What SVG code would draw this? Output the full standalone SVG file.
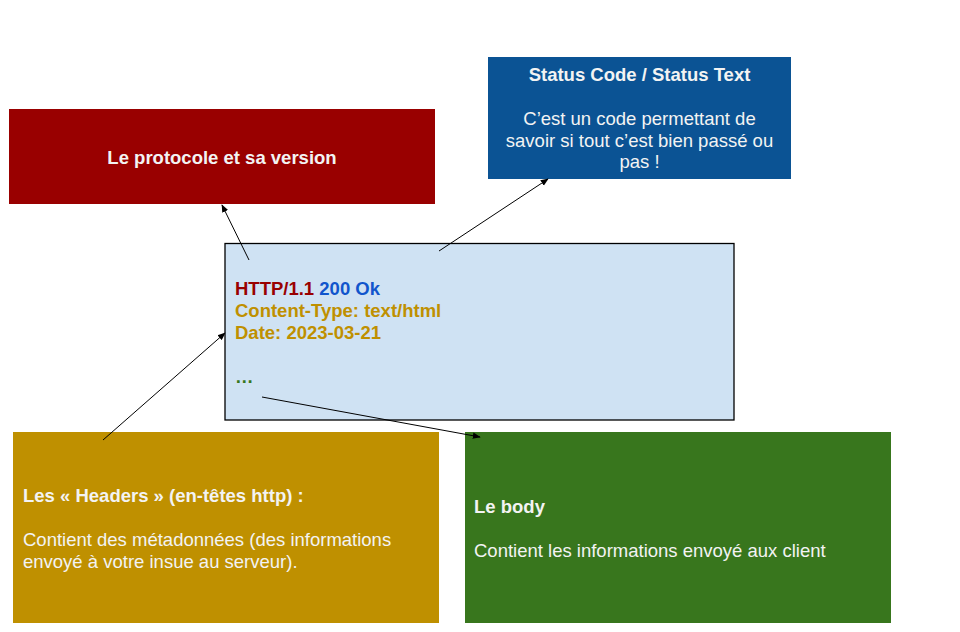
<svg xmlns="http://www.w3.org/2000/svg" width="960" height="632" viewBox="0 0 960 632">
<style>
text{font-family:"Liberation Sans",Arial,sans-serif;font-size:18.5px}
.w{fill:#f3f3f3}
.b{font-weight:bold}
.c{stroke:#000;stroke-width:1;fill:none;marker-end:url(#ah)}
</style>
<defs>
<marker id="ah" viewBox="0 0 10 10" refX="9" refY="5" markerWidth="8" markerHeight="8" markerUnits="userSpaceOnUse" orient="auto">
<path d="M0,1 L10,5 L0,9 z" fill="#000"/>
</marker>
</defs>
<rect width="960" height="632" fill="#fff"/>
<g id="protocol">
<rect x="9" y="109" width="426" height="95" fill="#990000"/>
<text class="w b" x="222" y="163.5" text-anchor="middle">Le protocole et sa version</text>
</g>
<g id="status">
<rect x="488" y="57" width="303" height="122" fill="#0b5394"/>
<text class="w b" x="639.5" y="80.5" text-anchor="middle">Status Code / Status Text</text>
<text class="w" x="639.5" y="125" text-anchor="middle">C’est un code permettant de</text>
<text class="w" x="639.5" y="146.5" text-anchor="middle">savoir si tout c’est bien passé ou</text>
<text class="w" x="639.5" y="168" text-anchor="middle">pas !</text>
</g>
<g id="message">
<rect x="225" y="243.5" width="509" height="176.5" fill="#cfe2f3" stroke="#000" stroke-width="1.3"/>
<text class="b" x="235" y="295"><tspan fill="#990000">HTTP/1.1</tspan> <tspan fill="#1155cc">200 Ok</tspan></text>
<text class="b" x="235" y="317" fill="#bf9000">Content-Type: text/html</text>
<text class="b" x="235" y="339" fill="#bf9000">Date: 2023-03-21</text>
<text class="b" x="235" y="383" fill="#38761d">…</text>
</g>
<g id="headers">
<rect x="13" y="432" width="426" height="191" fill="#bf9000"/>
<text class="w b" x="23" y="501.5">Les « Headers » (en-têtes http) :</text>
<text class="w" x="23" y="545.5">Contient des métadonnées (des informations</text>
<text class="w" x="23" y="567.5">envoyé à votre insue au serveur).</text>
</g>
<g id="body">
<rect x="465" y="432" width="426" height="191" fill="#38761d"/>
<text class="w b" x="474" y="513">Le body</text>
<text class="w" x="474" y="556.5">Contient les informations envoyé aux client</text>
</g>
<g id="connectors">
<line class="c" x1="249" y1="260" x2="222" y2="205"/>
<line class="c" x1="439" y1="251" x2="548" y2="179"/>
<line class="c" x1="103" y1="440" x2="225" y2="333"/>
<line class="c" x1="262" y1="397" x2="480" y2="437"/>
</g>
</svg>
